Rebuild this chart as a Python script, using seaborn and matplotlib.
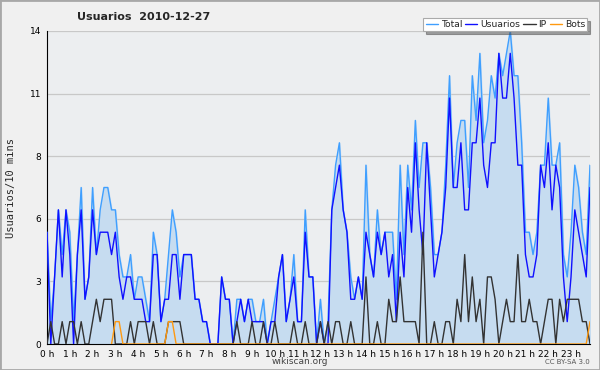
import numpy as np
import pandas as pd
import matplotlib
matplotlib.use("Agg")
import matplotlib.pyplot as plt
import seaborn as sns
from matplotlib.ticker import FixedLocator, MultipleLocator
from matplotlib.patches import Rectangle

# values per 10-minute bin (144 bins = 24 h)
total = [5, 1, 3, 6, 4, 6, 5, 1, 4, 7,
         2, 3, 7, 4, 6, 7, 7, 6, 6, 4,
         3, 3, 4, 2, 3, 3, 2, 1, 5, 4,
         1, 2, 4, 6, 5, 3, 4, 4, 4, 2,
         2, 1, 1, 0, 0, 0, 3, 2, 2, 0,
         2, 2, 1, 2, 2, 1, 1, 2, 0, 1,
         2, 3, 4, 1, 2, 4, 1, 1, 6, 3,
         3, 0, 2, 0, 1, 6, 8, 9, 6, 5,
         3, 2, 3, 2, 8, 4, 3, 6, 4, 5,
         5, 5, 2, 8, 4, 8, 6, 10, 7, 9,
         9, 7, 4, 4, 5, 8, 12, 7, 9, 10,
         10, 7, 12, 10, 13, 9, 10, 12, 11, 13,
         12, 13, 14, 12, 12, 9, 5, 5, 4, 5,
         8, 8, 11, 8, 8, 9, 4, 3, 5, 8,
         7, 5, 4, 8]
usuarios = [5, 0, 3, 6, 3, 6, 4, 0, 4, 6,
            2, 3, 6, 4, 5, 5, 5, 4, 5, 3,
            2, 3, 3, 2, 2, 2, 1, 1, 4, 4,
            1, 2, 2, 4, 4, 2, 4, 4, 4, 2,
            2, 1, 1, 0, 0, 0, 3, 2, 2, 0,
            1, 2, 1, 2, 1, 1, 1, 1, 0, 1,
            1, 3, 4, 1, 2, 3, 1, 1, 5, 3,
            3, 0, 1, 0, 0, 6, 7, 8, 6, 5,
            2, 2, 3, 2, 5, 4, 3, 5, 4, 5,
            3, 4, 1, 5, 3, 7, 5, 9, 6, 4,
            9, 6, 3, 4, 5, 7, 11, 7, 7, 9,
            6, 6, 9, 9, 11, 8, 7, 9, 9, 13,
            11, 11, 13, 11, 8, 8, 4, 3, 3, 4,
            8, 7, 9, 6, 8, 7, 3, 1, 3, 6,
            5, 4, 3, 7]
ip = [0, 1, 0, 0, 1, 0, 1, 1, 0, 1,
      0, 0, 1, 2, 1, 2, 2, 2, 0, 0,
      0, 0, 1, 0, 1, 1, 1, 0, 1, 0,
      0, 0, 1, 1, 1, 1, 0, 0, 0, 0,
      0, 0, 0, 0, 0, 0, 0, 0, 0, 0,
      1, 0, 0, 0, 1, 0, 0, 1, 0, 0,
      1, 0, 0, 0, 0, 1, 0, 0, 1, 0,
      0, 0, 1, 0, 1, 0, 1, 1, 0, 0,
      1, 0, 0, 0, 3, 0, 0, 1, 0, 0,
      2, 1, 1, 3, 1, 1, 1, 1, 0, 5,
      0, 0, 1, 0, 0, 1, 1, 0, 2, 1,
      4, 1, 3, 1, 2, 0, 3, 3, 2, 0,
      1, 2, 1, 1, 4, 1, 1, 2, 1, 1,
      0, 1, 2, 2, 0, 2, 1, 2, 2, 2,
      2, 1, 1, 0]
bots = [0] * 144
for k in (18, 19, 32, 33, 143):
    bots[k] = 1

hour_labels = [f"{h} h" for h in range(24)]
y_tick_labels = ["0", "3", "6", "8", "11", "14"]

df = pd.DataFrame({"slot": np.arange(144), "Total": total, "Usuarios": usuarios,
                   "IP": ip, "Bots": bots})

sns.set_style("white")
plt.rcParams["font.family"] = ["DejaVu Sans"]

fig = plt.figure(figsize=(6, 3.7), dpi=100, facecolor="#f0f0f0")
ax = fig.add_axes([47 / 600, 26 / 370, 543 / 600, 313 / 370])
ax.set_facecolor("#eceef0")

x_max = len(total) - 1
ax.fill_between(df["slot"], df["Total"], 0, color="#c6dcf0", zorder=1)

colors = {"Total": "#3f9fff", "Usuarios": "#1010ff", "IP": "#333333", "Bots": "#ff9910"}
for name in ["Total", "Usuarios", "IP", "Bots"]:
    sub = df if name != "Bots" else df.assign(Bots=df["Bots"].where(
        (df["Bots"] > 0) | (df["Bots"].shift(1, fill_value=0) > 0) |
        (df["Bots"].shift(-1, fill_value=0) > 0)))
    sns.lineplot(data=sub, x="slot", y=name, ax=ax, color=colors[name],
                 linewidth=1.0, label=name, zorder=3, legend=False)

ax.set_xlim(0, x_max)
ax.set_ylim(0, 14)

# y ticks: five equal steps, labels rounded
yt = [14 * k / 5 for k in range(6)]
ax.yaxis.set_major_locator(FixedLocator(yt))
ax.set_yticklabels(y_tick_labels)
ax.yaxis.set_minor_locator(FixedLocator([14 * k / 20 for k in range(21)]))
ax.grid(axis="y", color="#c8c8c8", linewidth=0.9, zorder=0)
ax.set_axisbelow(True)

ax.xaxis.set_major_locator(FixedLocator([6 * h for h in range(24)]))
ax.set_xticklabels(hour_labels)
ax.xaxis.set_minor_locator(MultipleLocator(1))

ax.tick_params(axis="both", which="major", labelsize=6.5, length=3, width=0.8,
               colors="black", pad=1)
ax.tick_params(axis="both", which="minor", length=2.5, width=0.8, color="black")

for side in ["top", "right"]:
    ax.spines[side].set_visible(False)
ax.spines["left"].set_color("black")
ax.spines["bottom"].set_color("black")

ax.set_xlabel("")
ax.set_ylabel("Usuarios/10 mins", fontfamily="DejaVu Sans Mono", fontsize=7.5,
              labelpad=10)

fig.text(0.128, 0.955, "Usuarios  2010-12-27", fontsize=8, fontweight="bold",
         va="center", ha="left")

leg = ax.legend(loc="upper right", bbox_to_anchor=(0.997, 1.045), ncol=4,
                fontsize=6.7, frameon=True, fancybox=False, shadow=True,
                handlelength=1.3, handletextpad=0.3, columnspacing=0.35,
                borderpad=0.25, borderaxespad=0.1)
leg.get_frame().set_edgecolor("#aaaaaa")
leg.get_frame().set_linewidth(0.8)
leg.set_zorder(10)

fig.text(0.5, 0.022, "wikiscan.org", fontsize=6.5, color="#444444",
         ha="center", va="center")
fig.text(0.983, 0.022, "CC BY-SA 3.0", fontsize=5, color="#555555",
         ha="right", va="center")

fig.add_artist(Rectangle((0, 0), 1, 1, transform=fig.transFigure, fill=False,
                         edgecolor="#a8a8a8", linewidth=2))

fig.savefig("out.png", dpi=100, facecolor=fig.get_facecolor())
